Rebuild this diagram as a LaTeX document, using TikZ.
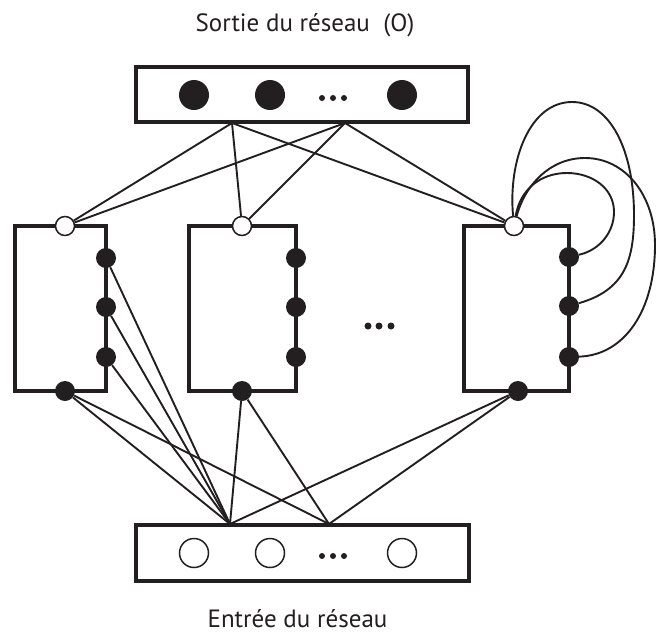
\documentclass[tikz,border=0pt]{standalone}
\usepackage{fontspec}
\setmainfont{PT Sans}
\definecolor{ink}{RGB}{35,31,32}
\begin{document}
\begin{tikzpicture}[x=1pt,y=-1pt,
  box/.style={draw=ink,line width=4pt,inner sep=0pt,fill=none},
  dotf/.style={circle,fill=ink,inner sep=0pt,minimum size=20pt},
  doto/.style={circle,draw=ink,fill=white,line width=1.5pt,inner sep=0pt,minimum size=19pt},
  bigf/.style={circle,fill=ink,inner sep=0pt,minimum size=30pt},
  bigo/.style={circle,draw=ink,line width=1.5pt,inner sep=0pt,minimum size=29pt},
  tinydot/.style={circle,fill=ink,inner sep=0pt,minimum size=6pt},
  link/.style={draw=ink,line width=1.9pt},
  lbl/.style={anchor=base,text=ink,inner sep=0pt,font=\fontsize{25}{30}\selectfont}
]
\useasboundingbox (0,0) rectangle (656,635);

% labels
\node[lbl] (tt) at (305,31) {Sortie du réseau\ \ (O)};
\node[lbl] (bt) at (297.5,627) {Entrée du réseau};

% output layer
\node[box,minimum width=332pt,minimum height=55pt] (out) at (302,94.5) {};
\node[bigf] (o1) at (194,95) {};
\node[bigf] (o2) at (270,95) {};
\node[bigf] (o3) at (402,95) {};
\node[tinydot] (od1) at (322,98) {};
\node[tinydot] (od2) at (333,98) {};
\node[tinydot] (od3) at (344,98) {};
\coordinate (A) at (232,123);
\coordinate (B) at (345,123);

% input layer
\node[box,minimum width=333pt,minimum height=56pt] (in) at (302.5,553) {};
\node[bigo] (i1) at (194,553) {};
\node[bigo] (i2) at (270,553) {};
\node[bigo] (i3) at (402,553) {};
\node[tinydot] (id1) at (322,556) {};
\node[tinydot] (id2) at (333,556) {};
\node[tinydot] (id3) at (344,556) {};
\coordinate (C) at (230,524);
\coordinate (D) at (329,524);

% blocks
\node[box,minimum width=91pt,minimum height=165pt] (L) at (60.5,308.5) {};
\node[box,minimum width=107pt,minimum height=165pt] (M) at (242.5,308.5) {};
\node[box,minimum width=105pt,minimum height=165pt] (R) at (516.5,308.5) {};
\node[tinydot,minimum size=7pt] (md1) at (368,326) {};
\node[tinydot,minimum size=7pt] (md2) at (379,326) {};
\node[tinydot,minimum size=7pt] (md3) at (391,326) {};

% block circles
\node[dotf] (l1) at (106,258) {};
\node[dotf] (l2) at (106,307) {};
\node[dotf] (l3) at (106,357) {};
\node[dotf] (lb) at (65,391) {};
\node[dotf] (m1) at (296,258) {};
\node[dotf] (m2) at (296,307) {};
\node[dotf] (m3) at (296,357) {};
\node[dotf] (mb) at (242,391) {};
\node[dotf] (r1) at (569,257) {};
\node[dotf] (r2) at (569,306) {};
\node[dotf] (r3) at (569,357) {};
\node[dotf] (rb) at (518,391) {};
\node[doto] (lo) at (65,226) {};
\node[doto] (mo) at (242,226) {};
\node[doto] (ro) at (514,226) {};

% connections to output
\path[link] (A) -- (lo);
\path[link] (A) -- (mo);
\path[link] (A) -- (ro);
\path[link] (B) -- (lo);
\path[link] (B) -- (mo);
\path[link] (B) -- (ro);

% connections from input
\path[link] (C) -- (lb);
\path[link] (D) -- (lb);
\path[link] (C) -- (l1);
\path[link] (C) -- (l2);
\path[link] (C) -- (l3);
\path[link] (C) -- (mb);
\path[link] (D) -- (mb);
\path[link] (C) -- (rb);
\path[link] (D) -- (rb);

% recurrent loops
\path[link] (r1) .. controls (600,250) and (614,232) .. (614,212)
  .. controls (614,188) and (592,173) .. (567,173)
  .. controls (540,173) and (520,190) .. (ro);
\path[link] (r2) .. controls (625,290) and (634,260) .. (634,215)
  .. controls (634,150) and (610,102) .. (572,102)
  .. controls (530,102) and (508,160) .. (ro);
\path[link] (r3) .. controls (625,355) and (655,310) .. (655,245)
  .. controls (655,195) and (625,158) .. (585,158)
  .. controls (550,158) and (525,185) .. (ro);
\end{tikzpicture}
\end{document}
